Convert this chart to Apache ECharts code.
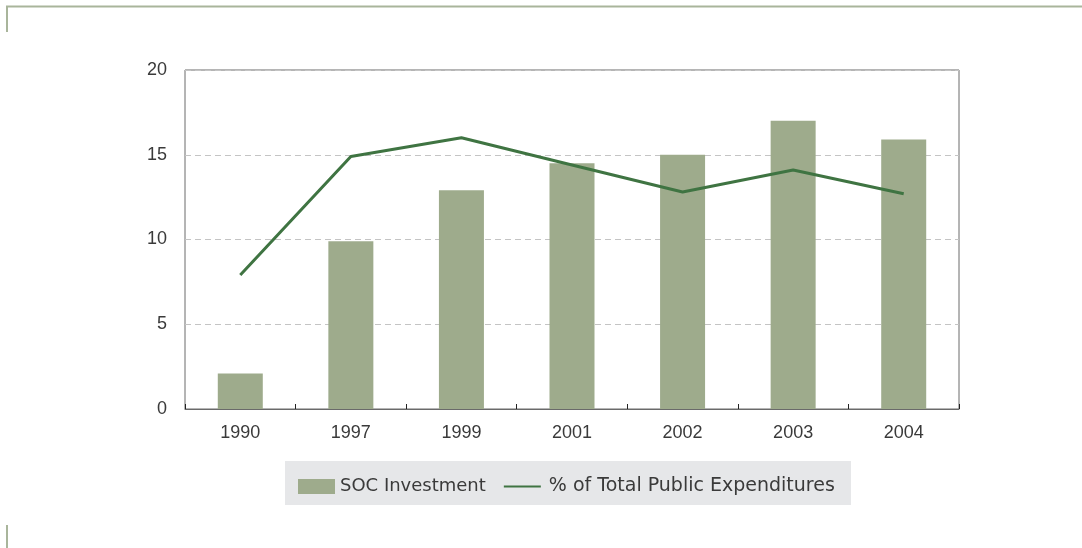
<!DOCTYPE html>
<html>
<head>
<meta charset="utf-8">
<script src="https://cdn.jsdelivr.net/npm/echarts@6/dist/echarts.min.js"></script>
<style>
  html, body { margin: 0; padding: 0; background: #fff; }
  #chart { width: 1082px; height: 548px; }
</style>
</head>
<body>
<div id="chart"></div>
<script>
// Years on the category axis
const years = ['1990', '1997', '1999', '2001', '2002', '2003', '2004'];
// SOC investment (bars)
const socInvestment = [2.1, 9.9, 12.9, 14.5, 15.0, 17.0, 15.9];
// Share of total public expenditures, % (line)
const shareOfExpenditures = [7.9, 14.9, 16.0, 14.4, 12.8, 14.1, 12.7];
// Value axis ticks
const yTicks = [0, 5, 10, 15, 20];

const FONT = '"Liberation Sans", Arial, sans-serif';
const LEGEND_FONT = '"DejaVu Sans", sans-serif';
const TEXT = '#3a3a3a';

const chart = echarts.init(document.getElementById('chart'), null, { renderer: 'canvas' });

chart.setOption({
  animation: false,
  backgroundColor: '#ffffff',
  textStyle: { fontFamily: FONT },
  grid: {
    left: 185, right: 123, top: 70, bottom: 139,
    show: true, borderColor: '#6a6a6a', borderWidth: 1
  },
  xAxis: {
    type: 'category',
    data: years,
    axisLine: { show: true, lineStyle: { color: '#6a6a6a', width: 1 } },
    axisTick: { show: true, inside: true, length: 5, lineStyle: { color: '#222' } },
    axisLabel: { color: TEXT, fontSize: 18, margin: 15, fontFamily: FONT }
  },
  yAxis: {
    type: 'value',
    min: yTicks[0],
    max: yTicks[yTicks.length - 1],
    interval: yTicks[1] - yTicks[0],
    axisLine: { show: false },
    axisTick: { show: false },
    axisLabel: { color: TEXT, fontSize: 18, margin: 18, fontFamily: FONT },
    splitLine: { show: true, lineStyle: { color: '#c4c4c4', type: [6, 4], width: 1 } }
  },
  legend: {
    left: 293,
    top: 472,
    itemWidth: 37,
    itemHeight: 15,
    itemGap: 17,
    textStyle: { color: TEXT, fontSize: 18, fontFamily: LEGEND_FONT, padding: [0, 0, 0, 0] },
    data: [
      { name: 'SOC Investment', icon: 'rect' },
      {
        name: '% of Total Public Expenditures',
        itemStyle: { opacity: 0 },
        textStyle: { fontSize: 19, padding: [0, 0, 0, 3] }
      }
    ]
  },
  graphic: [
    {
      type: 'rect', z: -10, silent: true,
      shape: { x: 285, y: 461, width: 566, height: 44 },
      style: { fill: '#e6e7e9' }
    },
    {
      type: 'polyline', silent: true,
      shape: { points: [[7, 32], [7, 6.5], [1082, 6.5]] },
      style: { stroke: '#a9b59b', lineWidth: 2, fill: null }
    },
    {
      type: 'line', silent: true,
      shape: { x1: 7, y1: 525, x2: 7, y2: 548 },
      style: { stroke: '#a9b59b', lineWidth: 2 }
    }
  ],
  series: [
    {
      name: 'SOC Investment',
      type: 'bar',
      data: socInvestment,
      barWidth: 45,
      itemStyle: { color: '#9eab8c' }
    },
    {
      name: '% of Total Public Expenditures',
      type: 'line',
      data: shareOfExpenditures,
      symbol: 'none',
      showSymbol: false,
      lineStyle: { color: '#3f7442', width: 3 },
      itemStyle: { color: '#3f7442' },
      z: 5
    }
  ]
});
</script>
</body>
</html>
